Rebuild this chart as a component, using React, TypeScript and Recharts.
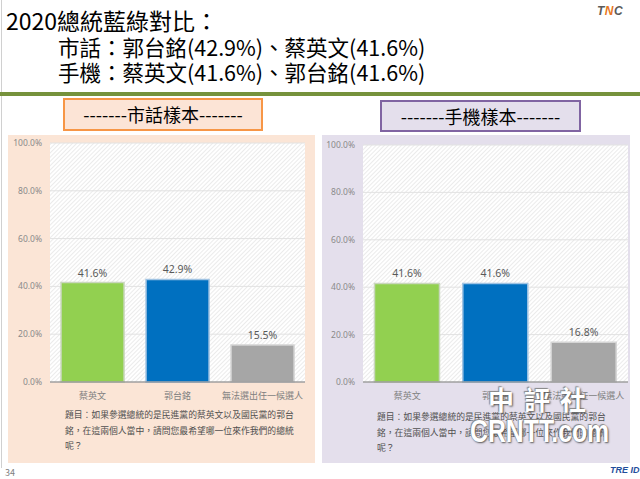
import { BarChart, Bar, XAxis, YAxis, CartesianGrid, Cell, LabelList } from "recharts";

const candidates = ["蔡英文", "郭台銘", "無法選出任一候選人"];
const landlineValues = [41.6, 42.9, 15.5];
const mobileValues = [41.6, 41.6, 16.8];
const yTicks = [0, 20, 40, 60, 80, 100];
const barColors = ["#92D050", "#0070C0", "#A6A6A6"];
const barStrokes = ["#c9d6bd", "#9fc3e3", "#d4d4d4"];
const questionLines = [
  "題目：如果參選總統的是民進黨的蔡英文以及國民黨的郭台",
  "銘，在這兩個人當中，請問您最希望哪一位來作我們的總統",
  "呢？",
];

const font = "'Noto Sans CJK TC', 'Noto Sans', sans-serif";

const toRows = (values: number[]) => candidates.map((name, i) => ({ name, value: values[i] }));

function Panel({
  values,
  left,
  width,
  bg,
  marginTop,
  marginRight,
  yWidth,
  textLeft,
  textTop,
}: {
  values: number[];
  left: number;
  width: number;
  bg: string;
  marginTop: number;
  marginRight: number;
  yWidth: number;
  textLeft: number;
  textTop: number;
}) {
  const rows = toRows(values);
  return (
    <div style={{ position: "absolute", left, top: 135, width, height: 328, background: bg }}>
      <BarChart
        width={width}
        height={277}
        data={rows}
        margin={{ top: marginTop, right: marginRight, left: 0, bottom: 0 }}
        barCategoryGap="13%"
      >
        <CartesianGrid vertical={false} stroke="#e2e2e2" fill="url(#hatch)" fillOpacity={1} />
        <XAxis
          dataKey="name"
          tickLine={false}
          axisLine={{ stroke: "#7f7f7f" }}
          tickMargin={5}
          interval={0}
          tick={{ fill: "#7f7f7f", fontSize: 9, fontFamily: font }}
          height={30}
        />
        <YAxis
          domain={[0, 100]}
          ticks={yTicks}
          width={yWidth}
          tickLine={false}
          axisLine={false}
          tickFormatter={(v: number) => `${v.toFixed(1)}%`}
          tick={{ fill: "#8a8a8a", fontSize: 8.5, fontFamily: "'Noto Sans', sans-serif" }}
        />
        <Bar dataKey="value" isAnimationActive={false} strokeWidth={1.5}>
          {rows.map((r, i) => (
            <Cell key={r.name} fill={barColors[i]} stroke={barStrokes[i]} />
          ))}
          <LabelList
            dataKey="value"
            position="top"
            offset={6}
            formatter={(v: number) => `${v.toFixed(1)}%`}
            style={{ fill: "#595959", fontSize: 10.5, fontFamily: "'Noto Sans', sans-serif" }}
          />
        </Bar>
      </BarChart>
      <div
        style={{
          position: "absolute",
          left: textLeft,
          top: textTop,
          fontSize: 8.8,
          lineHeight: "15.5px",
          color: "#505050",
          fontFamily: font,
          whiteSpace: "nowrap",
        }}
      >
        {questionLines.map((l) => (
          <div key={l}>{l}</div>
        ))}
      </div>
    </div>
  );
}

export default function App() {
  return (
    <div
      style={{
        position: "absolute",
        left: 0,
        top: 0,
        width: 640,
        height: 479,
        background: "#ffffff",
        overflow: "hidden",
        fontFamily: font,
      }}
    >
      <svg width={0} height={0} style={{ position: "absolute" }}>
        <defs>
          <pattern id="hatch" width={3} height={3} patternUnits="userSpaceOnUse" patternTransform="rotate(45)">
            <rect width={3} height={3} fill="#ffffff" />
            <line x1={0} y1={0} x2={0} y2={3} stroke="#d8d8d8" strokeWidth={1} />
          </pattern>
        </defs>
      </svg>
      <div style={{ position: "absolute", left: 1, top: 0, width: 1, height: 468, background: "#d0d0d0" }} />

      <div style={{ position: "absolute", left: 6, top: 7, fontSize: 23, lineHeight: "26px", color: "#000" }}>
        2020總統藍綠對比：
      </div>
      <div style={{ position: "absolute", left: 58, top: 34, fontSize: 21.5, lineHeight: "26px", color: "#000" }}>
        市話：郭台銘(42.9%)、蔡英文(41.6%)
      </div>
      <div style={{ position: "absolute", left: 58, top: 59, fontSize: 21.5, lineHeight: "26px", color: "#000" }}>
        手機：蔡英文(41.6%)、郭台銘(41.6%)
      </div>
      <div
        style={{
          position: "absolute",
          left: 597,
          top: 4,
          fontSize: 12,
          fontWeight: 700,
          fontStyle: "italic",
          color: "#5a5a5a",
          fontFamily: "'Liberation Sans', sans-serif",
          letterSpacing: 0.5,
        }}
      >
        T<span style={{ color: "#e87722" }}>N</span>C
      </div>

      <div style={{ position: "absolute", left: 0, top: 92, width: 640, height: 4, background: "#76923C" }} />

      <div
        style={{
          position: "absolute",
          left: 63,
          top: 98,
          width: 200,
          height: 33,
          boxSizing: "border-box",
          border: "2px solid #F79646",
          background: "#FCE4D6",
          fontSize: 18,
          lineHeight: "29px",
          textAlign: "center",
          color: "#000",
        }}
      >
        -------市話樣本-------
      </div>
      <div
        style={{
          position: "absolute",
          left: 380,
          top: 100,
          width: 201,
          height: 32,
          boxSizing: "border-box",
          border: "2px solid #8064A2",
          background: "#E4DFEC",
          fontSize: 18,
          lineHeight: "28px",
          textAlign: "center",
          color: "#000",
        }}
      >
        -------手機樣本-------
      </div>

      <Panel
        values={landlineValues}
        left={8}
        width={307}
        bg="#FBE5D6"
        marginTop={8}
        marginRight={10}
        yWidth={42}
        textLeft={57}
        textTop={272}
      />
      <Panel
        values={mobileValues}
        left={322}
        width={308}
        bg="#E4DFEC"
        marginTop={10}
        marginRight={2}
        yWidth={41}
        textLeft={55}
        textTop={274}
      />

      <div
        style={{
          position: "absolute",
          left: 488,
          top: 380,
          fontSize: 26,
          fontWeight: 700,
          color: "#ffffff",
          letterSpacing: 10,
          textShadow: "1px 1px 2px #555, -1px -1px 1px #888",
          whiteSpace: "nowrap",
        }}
      >
        中評社
      </div>
      <div
        style={{
          position: "absolute",
          left: 470,
          top: 414,
          fontSize: 31,
          fontWeight: 700,
          color: "#ffffff",
          fontFamily: "'Liberation Sans', sans-serif",
          textShadow: "1px 1px 2px #555, -1px -1px 1px #888",
          whiteSpace: "nowrap",
          transform: "scaleX(0.8)",
          transformOrigin: "left top",
        }}
      >
        CRNTT.com
      </div>

      <div style={{ position: "absolute", left: 5, top: 466, fontSize: 9, color: "#7f7f7f" }}>34</div>
      <div
        style={{
          position: "absolute",
          left: 610,
          top: 465,
          fontSize: 9,
          fontWeight: 700,
          fontStyle: "italic",
          color: "#1f4e9c",
          fontFamily: "'Liberation Sans', sans-serif",
          whiteSpace: "nowrap",
        }}
      >
        TRE ID
      </div>
    </div>
  );
}
